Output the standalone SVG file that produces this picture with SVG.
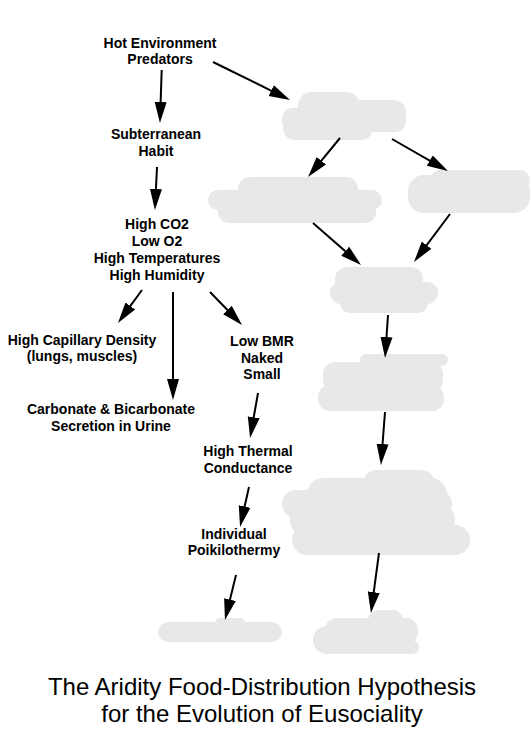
<svg xmlns="http://www.w3.org/2000/svg" width="531" height="734" viewBox="0 0 531 734">
<style>
.lbl{font-family:"Liberation Sans",Arial,sans-serif;font-weight:bold;font-size:14px;fill:#000;text-anchor:middle}
.ttl{font-family:"Liberation Sans",Arial,sans-serif;font-size:24px;fill:#000;text-anchor:middle}
.blob rect{fill:#e8e8e8}
.conn line{stroke:#000;stroke-width:2;marker-end:url(#ah)}
</style>
<defs>
<marker id="ah" markerUnits="userSpaceOnUse" markerWidth="22" markerHeight="14" viewBox="0 0 22 14" refX="7" refY="7" orient="auto">
<path d="M0,1 L21,7 L0,13 z" fill="#000"/>
</marker>
</defs>
<rect width="531" height="734" fill="#fff"/>

<g id="blob1" class="blob">
<rect x="298" y="92" width="62" height="40" rx="14"/>
<rect x="282" y="108" width="124" height="24" rx="11"/>
<rect x="283" y="115" width="90" height="25" rx="12"/>
<rect x="350" y="100" width="56" height="30" rx="12"/>
</g>
<g id="blob2" class="blob">
<rect x="238" y="177" width="120" height="30" rx="12"/>
<rect x="208" y="190" width="174" height="20" rx="10"/>
<rect x="218" y="200" width="158" height="23" rx="11"/>
</g>
<g id="blob3" class="blob">
<rect x="408" y="175" width="122" height="38" rx="16"/>
<rect x="430" y="170" width="100" height="20" rx="10"/>
</g>
<g id="blob4" class="blob">
<rect x="335" y="267" width="88" height="30" rx="12"/>
<rect x="330" y="282" width="108" height="22" rx="11"/>
<rect x="340" y="292" width="88" height="21" rx="10"/>
</g>
<g id="blob5" class="blob">
<rect x="360" y="354" width="88" height="12" rx="6"/>
<rect x="323" y="362" width="120" height="30" rx="12"/>
<rect x="318" y="385" width="126" height="26" rx="12"/>
</g>
<g id="blob6" class="blob">
<rect x="363" y="470" width="72" height="30" rx="14"/>
<rect x="307" y="478" width="140" height="40" rx="16"/>
<rect x="282" y="490" width="170" height="28" rx="14"/>
<rect x="290" y="505" width="165" height="30" rx="14"/>
<rect x="292" y="525" width="178" height="30" rx="15"/>
</g>
<g id="blob7" class="blob">
<rect x="158" y="622" width="124" height="20" rx="10"/>
<rect x="215" y="618" width="30" height="10" rx="5"/>
</g>
<g id="blob8" class="blob">
<rect x="368" y="610" width="35" height="20" rx="10"/>
<rect x="325" y="618" width="93" height="26" rx="12"/>
<rect x="313" y="626" width="98" height="28" rx="14"/>
<rect x="330" y="640" width="89" height="14" rx="7"/>
</g>

<g id="n-hot">
<text class="lbl" x="160" y="48">Hot Environment</text>
<text class="lbl" x="160" y="64">Predators</text>
</g>
<g id="n-sub">
<text class="lbl" x="156" y="139">Subterranean</text>
<text class="lbl" x="156" y="156">Habit</text>
</g>
<g id="n-co2">
<text class="lbl" x="157" y="229">High CO2</text>
<text class="lbl" x="157" y="246">Low O2</text>
<text class="lbl" x="157" y="263">High Temperatures</text>
<text class="lbl" x="157" y="280">High Humidity</text>
</g>
<g id="n-cap">
<text class="lbl" x="82" y="345">High Capillary Density</text>
<text class="lbl" x="82" y="361">(lungs, muscles)</text>
</g>
<g id="n-bmr">
<text class="lbl" x="262" y="346">Low BMR</text>
<text class="lbl" x="262" y="363">Naked</text>
<text class="lbl" x="262" y="379">Small</text>
</g>
<g id="n-carb">
<text class="lbl" x="111" y="414">Carbonate &amp; Bicarbonate</text>
<text class="lbl" x="111" y="431">Secretion in Urine</text>
</g>
<g id="n-therm">
<text class="lbl" x="248" y="456">High Thermal</text>
<text class="lbl" x="248" y="473">Conductance</text>
</g>
<g id="n-poik">
<text class="lbl" x="234" y="539">Individual</text>
<text class="lbl" x="234" y="555">Poikilothermy</text>
</g>

<g id="connectors" class="conn">
<line x1="161.7" y1="70" x2="160.4" y2="109"/>
<line x1="157" y1="167" x2="155.6" y2="196"/>
<line x1="142" y1="290" x2="126.2" y2="311.7"/>
<line x1="173" y1="292" x2="173" y2="386"/>
<line x1="210" y1="292" x2="232.3" y2="315"/>
<line x1="213" y1="62" x2="277.5" y2="93.8"/>
<line x1="340" y1="138" x2="316.9" y2="166.2"/>
<line x1="392" y1="139" x2="435.8" y2="164.1"/>
<line x1="313" y1="223" x2="350.5" y2="255.8"/>
<line x1="450" y1="214" x2="422.4" y2="250.8"/>
<line x1="388" y1="315" x2="386" y2="344"/>
<line x1="385" y1="412" x2="382" y2="451"/>
<line x1="379" y1="553" x2="372.8" y2="599.1"/>
<line x1="258" y1="393" x2="252.5" y2="424.2"/>
<line x1="249" y1="487" x2="243.1" y2="513.3"/>
<line x1="236" y1="575" x2="228.3" y2="606.4"/>
</g>

<g id="title">
<text class="ttl" x="262" y="695">The Aridity Food-Distribution Hypothesis</text>
<text class="ttl" x="262" y="722">for the Evolution of Eusociality</text>
</g>
</svg>
